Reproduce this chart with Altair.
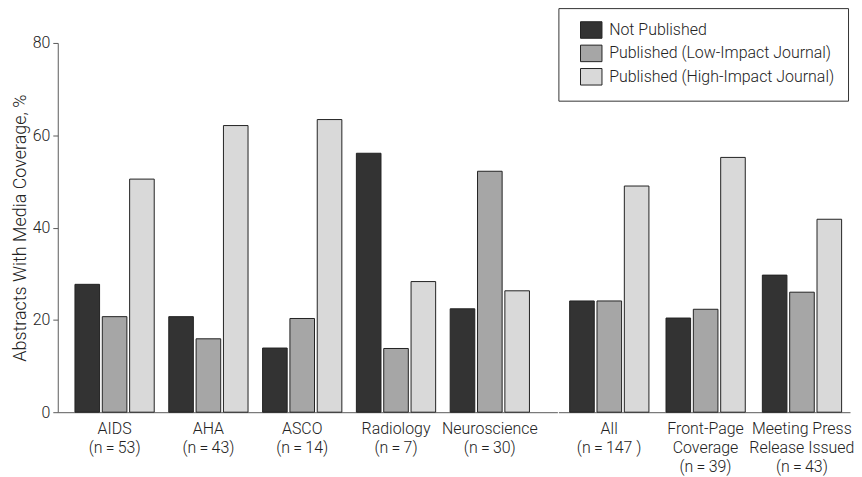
import altair as alt
import pandas as pd

TS = "\u2009"  # thin space used around "="
groups = [
    f"AIDS|(n{TS}={TS}53)",
    f"AHA|(n{TS}={TS}43)",
    f"ASCO|(n{TS}={TS}14)",
    f"Radiology|(n{TS}={TS}7)",
    f"Neuroscience|(n{TS}={TS}30)",
    f"All|(n{TS}={TS}147 )",
    f"Front-Page|Coverage|(n{TS}={TS}39)",
    f"Meeting Press|Release Issued|(n{TS}={TS}43)",
]
series = ["Not Published", "Published (Low-Impact Journal)", "Published (High-Impact Journal)"]
not_published = [27.7, 20.7, 13.9, 56.1, 22.4, 24.1, 20.4, 29.7]
low_impact = [20.7, 15.9, 20.3, 13.8, 52.2, 24.1, 22.3, 26.0]
high_impact = [50.5, 62.1, 63.4, 28.3, 26.3, 49.0, 55.2, 41.8]
colors = ["#333333", "#a6a6a6", "#d9d9d9"]
y_ticks = [0, 20, 40, 60, 80]

rows = []
for i, g in enumerate(groups):
    for s, vals in zip(series, [not_published, low_impact, high_impact]):
        rows.append({"group": g, "series": s, "value": vals[i]})
df = pd.DataFrame(rows)

FONT = "Roboto"
FW = 300
AXIS_GRAY = "#5a5a5a"
H = 371


def panel(gs, width, pad_inner, pad_outer, align, show_y, show_legend):
    data = df[df["group"].isin(gs)]
    x = alt.X(
        "group:N",
        sort=gs,
        title=None,
        scale=alt.Scale(paddingInner=pad_inner, paddingOuter=pad_outer, align=align),
        axis=alt.Axis(
            labelAngle=0,
            ticks=False,
            labelPadding=8.5,
            labelExpr="split(datum.label, '|')",
            labelLineHeight=19,
            labelFont=FONT,
            labelFontWeight=FW,
            labelFontSize=16,
            labelColor="#222",
            domainColor=AXIS_GRAY,
            labelBaseline="top",
            grid=False,
        ),
    )
    if show_y:
        yaxis = alt.Axis(
            values=y_ticks,
            tickSize=5,
            labelPadding=3,
            title="Abstracts With Media Coverage, %",
            titleFont=FONT,
            titleFontSize=18,
            titleFontWeight=FW,
            titleColor="#222",
            titlePadding=3,
            labelFont=FONT,
            labelFontWeight=FW,
            labelFontSize=16,
            labelColor="#222",
            domainColor=AXIS_GRAY,
            tickColor=AXIS_GRAY,
            grid=False,
        )
    else:
        yaxis = None
    y = alt.Y("value:Q", scale=alt.Scale(domain=[0, 80], nice=False), axis=yaxis)
    if show_legend:
        legend = alt.Legend(
            title=None,
            orient="none",
            legendX=0,
            legendY=-35,
            symbolType="M-1.3,-1H1.3V1H-1.3Z",
            symbolSize=275,
            symbolStrokeColor="#222",
            symbolStrokeWidth=1,
            symbolOffset=11,
            labelFont=FONT,
            labelFontWeight=FW,
            labelFontSize=16,
            labelColor="#222",
            labelOffset=9,
            labelLimit=400,
            rowPadding=1.5,
            padding=13,
            strokeColor="#333",
            fillColor="white",
        )
    else:
        legend = None
    return (
        alt.Chart(data)
        .mark_bar(stroke="#222", strokeWidth=1)
        .encode(
            x=x,
            xOffset=alt.XOffset("series:N", sort=series,
                                scale=alt.Scale(paddingInner=0.1, paddingOuter=0)),
            y=y,
            color=alt.Color("series:N", sort=series,
                            scale=alt.Scale(domain=series, range=colors), legend=legend),
        )
        .properties(width=width, height=H)
    )


left = panel(groups[:5], 502, 0.155, 0.2406, 0.381, True, False)
right = panel(groups[5:], 293, 0.18, 0.1035, 0.565, False, True)

chart = (
    alt.hconcat(left, right, spacing=0)
    .resolve_scale(color="independent")
    .resolve_legend(color="independent")
    .configure_view(stroke=None)
    .properties(padding={"left": 3, "top": -2, "right": 0, "bottom": 0}, background="white")
)

chart.save("out.html", embed_options={"renderer": "svg", "actions": False})
